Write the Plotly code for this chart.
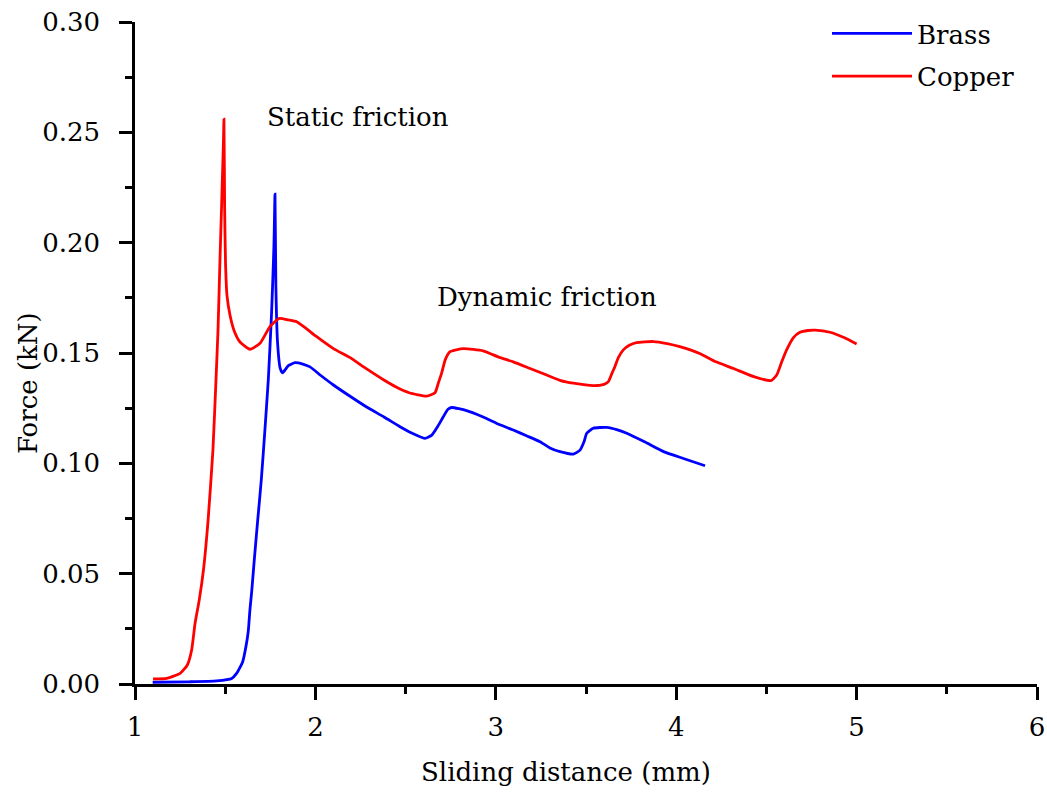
import plotly.graph_objects as go

# ---- data ----
copper_x = [1.10, 1.176, 1.25, 1.29, 1.314, 1.333, 1.356, 1.38, 1.405, 1.432, 1.449, 1.46, 1.472,
            1.482, 1.49, 1.493, 1.497, 1.502, 1.51, 1.527, 1.55, 1.582, 1.637, 1.693, 1.748, 1.80,
            1.85, 1.896, 1.95, 2.007, 2.10, 2.19, 2.28, 2.375, 2.45, 2.52, 2.617, 2.663, 2.68, 2.70,
            2.72, 2.746, 2.82, 2.93, 3.02, 3.097, 3.19, 3.282, 3.36, 3.43, 3.54, 3.60, 3.624, 3.645,
            3.66, 3.68, 3.707, 3.74, 3.78, 3.873, 3.95, 4.02, 4.13, 4.22, 4.317, 4.43, 4.526, 4.557,
            4.585, 4.612, 4.65, 4.686, 4.73, 4.77, 4.853, 4.93, 5.0]
copper_y = [0.0023, 0.0026, 0.0048, 0.0086, 0.0154, 0.0275, 0.038, 0.052, 0.074, 0.106, 0.138, 0.16,
            0.195, 0.222, 0.245, 0.256, 0.215, 0.19, 0.176, 0.167, 0.16, 0.155, 0.1517, 0.1544, 0.162,
            0.1657, 0.165, 0.1642, 0.161, 0.1574, 0.152, 0.148, 0.143, 0.138, 0.1345, 0.132, 0.1305,
            0.132, 0.136, 0.141, 0.147, 0.1506, 0.152, 0.151, 0.148, 0.146, 0.143, 0.140, 0.1375,
            0.1363, 0.1352, 0.1358, 0.137, 0.141, 0.1438, 0.148, 0.1514, 0.1535, 0.1547, 0.1552,
            0.1543, 0.1529, 0.1498, 0.146, 0.143, 0.1393, 0.1375, 0.140, 0.146, 0.1514, 0.157,
            0.1594, 0.1602, 0.1604, 0.1594, 0.157, 0.1541]

brass_x = [1.098, 1.30, 1.453, 1.536, 1.563, 1.597, 1.615, 1.628, 1.637, 1.647, 1.661, 1.68, 1.70,
           1.72, 1.739, 1.757, 1.77, 1.776, 1.781, 1.79, 1.805, 1.818, 1.85, 1.887, 1.93, 1.97, 2.03,
           2.10, 2.19, 2.284, 2.38, 2.469, 2.54, 2.608, 2.645, 2.68, 2.709, 2.735, 2.755, 2.838,
           2.93, 3.02, 3.097, 3.17, 3.245, 3.30, 3.356, 3.43, 3.467, 3.49, 3.504, 3.54, 3.615,
           3.67, 3.726, 3.83, 3.93, 4.04, 4.16]
brass_y = [0.0008, 0.001, 0.0014, 0.0025, 0.0048, 0.0101, 0.017, 0.024, 0.0335, 0.042, 0.056, 0.074,
           0.0924, 0.115, 0.138, 0.168, 0.198, 0.222, 0.18, 0.155, 0.143, 0.141, 0.1443, 0.1456,
           0.145, 0.1437, 0.1398, 0.1355, 0.1305, 0.1255, 0.121, 0.1166, 0.1135, 0.1113, 0.1128,
           0.117, 0.1211, 0.1245, 0.1253, 0.1239, 0.121, 0.1176, 0.1151, 0.1125, 0.1098, 0.107,
           0.1053, 0.1042, 0.106, 0.110, 0.1136, 0.1159, 0.1163, 0.1153, 0.1136, 0.1095, 0.1053,
           0.1022, 0.0989]

x_ticks = [1, 2, 3, 4, 5, 6]
y_ticks = [0.00, 0.05, 0.10, 0.15, 0.20, 0.25, 0.30]

FONT = "DejaVu Serif"
FS = 26

fig = go.Figure()
fig.add_trace(go.Scatter(x=brass_x, y=brass_y, mode="lines", name="Brass",
                         line=dict(color="rgb(0,0,255)", width=2.8, shape="spline", smoothing=0.5),
                         legendgroup="a"))
fig.add_trace(go.Scatter(x=copper_x, y=copper_y, mode="lines", name="Copper",
                         line=dict(color="rgb(255,0,0)", width=2.8, shape="spline", smoothing=0.5),
                         legendgroup="b"))

axis_common = dict(showgrid=False, zeroline=False, showline=True, linecolor="black", linewidth=2.5,
                   ticks="outside", ticklen=13, tickwidth=2.5, tickcolor="black", automargin=False,
                   tickfont=dict(family=FONT, size=FS, color="black"), mirror=False)

fig.update_xaxes(range=[1, 6], tickvals=x_ticks, ticktext=[str(v) for v in x_ticks],
                 minor=dict(ticks="outside", ticklen=7, tickwidth=2.5, tickcolor="black", dtick=0.5,
                            tick0=1, showgrid=False),
                 ticklabelstandoff=5, **axis_common)
fig.update_yaxes(range=[0, 0.30], tickvals=y_ticks, ticktext=[f"{v:.2f}" for v in y_ticks],
                 minor=dict(ticks="outside", ticklen=7, tickwidth=2.5, tickcolor="black", dtick=0.025,
                            tick0=0, showgrid=False),
                 ticklabelstandoff=14, **axis_common)

fig.add_annotation(text="Sliding distance (mm)", xref="paper", yref="paper", x=(566 - 135) / 902,
                   y=(684 - 772) / 662, xanchor="center", yanchor="middle", showarrow=False,
                   font=dict(family=FONT, size=FS, color="black"))
fig.add_annotation(text="Force (kN)", xref="paper", yref="paper", x=(28 - 135) / 902,
                   y=(684 - 383) / 662, xanchor="center", yanchor="middle", textangle=-90,
                   showarrow=False, font=dict(family=FONT, size=FS, color="black"))
fig.add_annotation(text="Static friction", x=1.72, y=0.257, xanchor="left", yanchor="middle",
                   showarrow=False, font=dict(family=FONT, size=FS, color="black"))
fig.add_annotation(text="Dynamic friction", x=2.663, y=0.1754, xanchor="left", yanchor="middle",
                   showarrow=False, font=dict(family=FONT, size=FS, color="black"))

fig.update_layout(
    width=1047, height=792,
    margin=dict(l=135, r=10, t=22, b=108, autoexpand=False),
    plot_bgcolor="white", paper_bgcolor="white",
    font=dict(family=FONT, size=FS, color="black"),
    showlegend=True,
    legend=dict(x=(827 - 135) / 902, y=(684 - 10) / 662, xanchor="left", yanchor="top",
                bgcolor="rgba(0,0,0,0)", borderwidth=0, traceorder="grouped",
                tracegroupgap=6, itemwidth=80,
                font=dict(family=FONT, size=FS, color="black")),
)

fig.write_html("out.html")
